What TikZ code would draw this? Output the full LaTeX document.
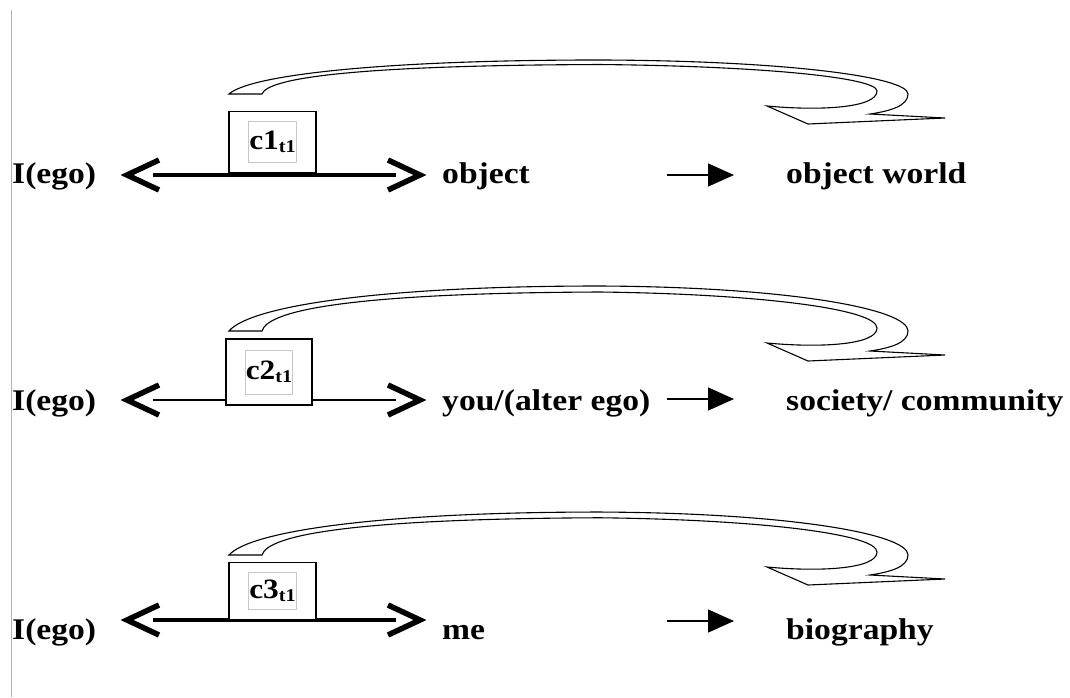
\documentclass[tikz,border=0pt]{standalone}
\usepackage{fontspec}
\setmainfont{Liberation Serif}[FakeStretch=1.12]
\usetikzlibrary{arrows.meta}
\tikzset{
  lbl/.style={anchor=base west, inner sep=0pt, font=\fontsize{30}{36}\selectfont\bfseries},
  obox/.style={draw=black, line width=1.2pt, fill=white, inner sep=0pt},
  ibox/.style={draw=black!22, line width=0.9pt, fill=white, inner sep=0pt, minimum width=48pt,
    font=\fontsize{28}{30}\selectfont\bfseries},
  chev/.style={line width=5.5pt, line cap=butt, line join=miter},
  thickline/.style={line width=4pt},
  thinline/.style={line width=1.6pt},
  smallarrow/.style={line width=1.3pt, -{Triangle[length=26pt,width=23pt]}},
  ribbonline/.style={draw=black, line width=1.1pt, fill=white},
}
\newcommand\myribbon[2]{%
\begin{scope}[shift={(0,#1)}]
\draw[ribbonline] (229,0) .. controls (250,{-25*#2}) and (380,{-45*#2}) .. (600,{-45*#2})
  .. controls (790,{-44*#2}) and (908,{-22*#2}) .. (908,0)
  .. controls (908,12) and (890,17) .. (870,20) -- (945,24) -- (808,30) -- (767,12)
  .. controls (820,17) and (877,14) .. (877,-3)
  .. controls (877,{-22*#2}) and (760,{-37*#2}) .. (600,{-39*#2})
  .. controls (360,{-38*#2}) and (268,{-22*#2}) .. (262,0) -- cycle;
\end{scope}}
\newcommand\subt[1]{\raisebox{-3pt}{\fontsize{18}{18}\selectfont #1}}
\begin{document}
\begin{tikzpicture}[x=1pt,y=-1pt]
\useasboundingbox (0,0) rectangle (1070,697);
\draw[black!30, line width=1.6pt] (11.5,10) -- (11.5,697);

% ---------- row 1 ----------
\node[lbl] (ego1) at (12,183) {I(ego)};
\node[lbl] (obj1) at (442,183) {object};
\node[lbl] (w1) at (786,183) {object world};
\coordinate (l1) at (153,175);
\coordinate (r1) at (396,175);
\draw[thickline] (l1) -- (r1);
\draw[chev] (159,160) -- (127,175) -- (159,190);
\draw[chev] (388,160) -- (420,175) -- (388,190);
\node[obox, minimum width=87pt, minimum height=61pt] (b1) at (272.5,142) {};
\node[ibox, minimum height=41pt] (c1) at (b1.center) {c1\subt{t1}};
\coordinate (a1s) at (667,175);
\coordinate (a1e) at (734,175);
\draw[smallarrow] (a1s) -- (a1e);
\myribbon{94}{0.756}

% ---------- row 2 ----------
\node[lbl] (ego2) at (12,410) {I(ego)};
\node[lbl] (obj2) at (442,410) {you/(alter ego)};
\node[lbl] (w2) at (786,410) {society/ community};
\coordinate (l2) at (153,400);
\coordinate (r2) at (396,400);
\draw[thinline] (l2) -- (r2);
\draw[chev] (159,385) -- (127,400) -- (159,415);
\draw[chev] (388,385) -- (420,400) -- (388,415);
\node[obox, minimum width=86pt, minimum height=66pt] (b2) at (269,372) {};
\node[ibox, minimum width=47pt, minimum height=44pt] (c2) at (b2.center) {c2\subt{t1}};
\coordinate (a2s) at (667,399);
\coordinate (a2e) at (734,399);
\draw[smallarrow] (a2s) -- (a2e);
\myribbon{331}{1}

% ---------- row 3 ----------
\node[lbl] (ego3) at (12,639) {I(ego)};
\node[lbl] (obj3) at (442,639) {me};
\node[lbl] (w3) at (786,639) {biography};
\coordinate (l3) at (153,620);
\coordinate (r3) at (396,620);
\draw[thickline] (l3) -- (r3);
\draw[chev] (159,605) -- (127,620) -- (159,635);
\draw[chev] (388,605) -- (420,620) -- (388,635);
\node[obox, minimum width=87pt, minimum height=57pt] (b3) at (272.5,591) {};
\node[ibox, minimum height=37pt] (c3) at (b3.center) {c3\subt{t1}};
\coordinate (a3s) at (667,621);
\coordinate (a3e) at (734,621);
\draw[smallarrow] (a3s) -- (a3e);
\myribbon{555}{0.955}
\end{tikzpicture}
\end{document}
